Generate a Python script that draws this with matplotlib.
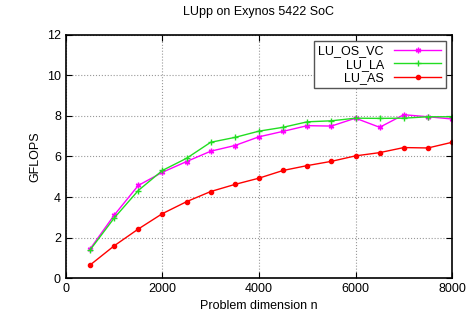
import matplotlib
matplotlib.use("Agg")
import matplotlib.pyplot as plt

n = [500, 1000, 1500, 2000, 2500, 3000, 3500, 4000, 4500, 5000, 5500, 6000, 6500, 7000, 7500, 8000]
lu_os_vc = [1.43, 3.10, 4.57, 5.22, 5.75, 6.26, 6.54, 6.97, 7.24, 7.52, 7.50, 7.89, 7.44, 8.06, 7.96, 7.85]
lu_la = [1.38, 2.96, 4.32, 5.31, 5.91, 6.70, 6.94, 7.25, 7.44, 7.71, 7.76, 7.89, 7.88, 7.89, 7.96, 7.96]
lu_as = [0.64, 1.59, 2.42, 3.18, 3.77, 4.27, 4.62, 4.93, 5.31, 5.55, 5.76, 6.03, 6.19, 6.44, 6.42, 6.70]

plt.rcParams['font.family'] = ['Liberation Sans', 'DejaVu Sans']
fig = plt.figure(figsize=(4.67, 3.2), dpi=100)
ax = fig.add_axes([0.141, 0.131, 0.827, 0.76])

ax.plot(n, lu_os_vc, color='#ff00ff', marker=(6, 2, 0), markersize=4, lw=1, label='LU_OS_VC')
ax.plot(n, lu_la, color='#22dd22', marker='+', markersize=4.5, lw=1, label='LU_LA')
ax.plot(n, lu_as, color='#ff0000', marker='o', markersize=3, lw=1, label='LU_AS')

ax.set_xlim(0, 8000)
ax.set_ylim(0, 12)
ax.set_xticks([0, 2000, 4000, 6000, 8000])
ax.set_yticks([0, 2, 4, 6, 8, 10, 12])
ax.tick_params(direction='in', top=True, right=True, labelsize=9, length=4)
ax.grid(True, linestyle=':', color='#999999', lw=0.8)
for s in ax.spines.values():
    s.set_linewidth(1.2)
ax.set_xlabel('Problem dimension n', fontsize=9)
ax.set_ylabel('GFLOPS', fontsize=9)
ax.set_title('LUpp on Exynos 5422 SoC', fontsize=9, pad=14)

leg = ax.legend(loc='upper right', markerfirst=False, fontsize=9, frameon=True, fancybox=False,
                edgecolor='#555555', framealpha=1, handlelength=3.8, borderaxespad=0.5,
                labelspacing=0.1, handletextpad=0.8, borderpad=0.35)
leg.get_frame().set_linewidth(1.0)
for col in leg._legend_handle_box.get_children():
    col.align = 'right'

fig.savefig('out.png', dpi=100)
